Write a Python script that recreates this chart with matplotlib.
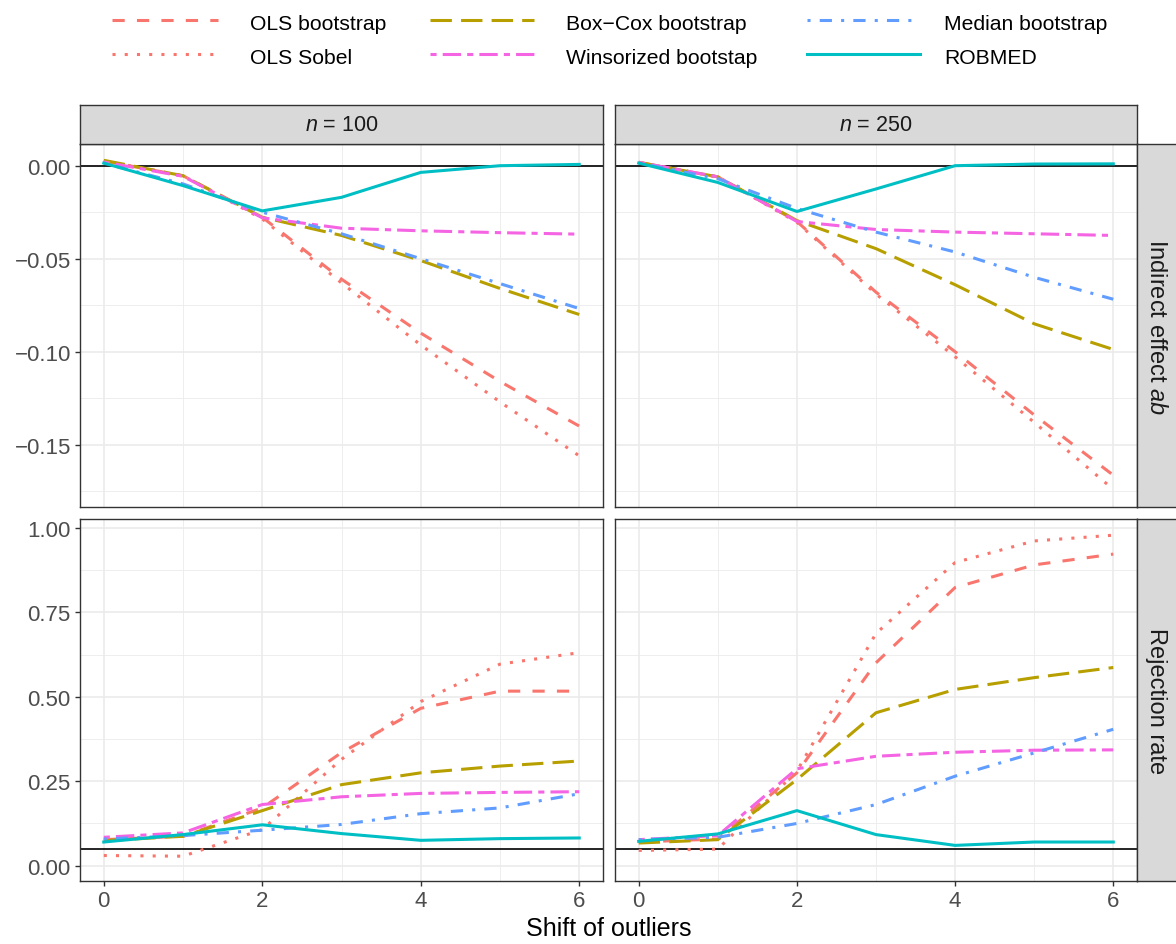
import matplotlib
matplotlib.use("Agg")
import matplotlib.pyplot as plt
from matplotlib.lines import Line2D
from matplotlib.ticker import FixedLocator

plt.rcParams['font.family'] = ['Liberation Sans', 'DejaVu Sans']
plt.rcParams['mathtext.fontset'] = 'custom'
plt.rcParams['mathtext.rm'] = 'Liberation Sans'
plt.rcParams['mathtext.it'] = 'Liberation Sans:italic'

# ---- data -------------------------------------------------------------
shift = [0, 1, 2, 3, 4, 5, 6]
methods = ["OLS bootstrap", "OLS Sobel", "Box\u2212Cox bootstrap",
           "Winsorized bootstap", "Median bootstrap", "ROBMED"]
sample_sizes = [100, 250]

# indirect effect ab, n = 100
ols_boot_ab_100 = [0.0025, -0.0054, -0.0277, -0.061, -0.090, -0.116, -0.140]
ols_sobel_ab_100 = [0.0025, -0.0054, -0.0286, -0.063, -0.0964, -0.127, -0.156]
boxcox_ab_100 = [0.0029, -0.0054, -0.0277, -0.0375, -0.051, -0.066, -0.080]
wins_ab_100 = [0.0020, -0.0057, -0.0280, -0.0336, -0.035, -0.036, -0.0368]
median_ab_100 = [0.0014, -0.0098, -0.0250, -0.0366, -0.050, -0.0634, -0.0768]
robmed_ab_100 = [0.0014, -0.0107, -0.0243, -0.0170, -0.0036, 0.0, 0.0007]

# indirect effect ab, n = 250
ols_boot_ab_250 = [0.0018, -0.0060, -0.0300, -0.068, -0.100, -0.134, -0.1664]
ols_sobel_ab_250 = [0.0018, -0.0060, -0.0304, -0.069, -0.1027, -0.138, -0.174]
boxcox_ab_250 = [0.0018, -0.0060, -0.0295, -0.0446, -0.064, -0.085, -0.0988]
wins_ab_250 = [0.0018, -0.0060, -0.0300, -0.0343, -0.0357, -0.0366, -0.0375]
median_ab_250 = [0.0014, -0.0070, -0.0230, -0.0357, -0.0464, -0.060, -0.0718]
robmed_ab_250 = [0.0014, -0.0090, -0.0246, -0.0125, 0.0, 0.0009, 0.0010]

# rejection rate, n = 100
ols_boot_rej_100 = [0.077, 0.087, 0.171, 0.335, 0.466, 0.517, 0.517]
ols_sobel_rej_100 = [0.030, 0.028, 0.107, 0.315, 0.486, 0.597, 0.631]
boxcox_rej_100 = [0.074, 0.087, 0.163, 0.240, 0.275, 0.295, 0.310]
wins_rej_100 = [0.084, 0.097, 0.181, 0.204, 0.214, 0.217, 0.219]
median_rej_100 = [0.079, 0.089, 0.105, 0.122, 0.154, 0.171, 0.213]
robmed_rej_100 = [0.070, 0.092, 0.121, 0.095, 0.075, 0.080, 0.082]

# rejection rate, n = 250
ols_boot_rej_250 = [0.070, 0.079, 0.275, 0.601, 0.824, 0.891, 0.923]
ols_sobel_rej_250 = [0.045, 0.049, 0.280, 0.688, 0.898, 0.962, 0.979]
boxcox_rej_250 = [0.067, 0.077, 0.255, 0.453, 0.522, 0.557, 0.587]
wins_rej_250 = [0.077, 0.089, 0.287, 0.324, 0.336, 0.342, 0.343]
median_rej_250 = [0.077, 0.084, 0.125, 0.181, 0.265, 0.334, 0.404]
robmed_rej_250 = [0.072, 0.094, 0.163, 0.092, 0.060, 0.070, 0.070]

ab_series = {
    100: [ols_boot_ab_100, ols_sobel_ab_100, boxcox_ab_100,
          wins_ab_100, median_ab_100, robmed_ab_100],
    250: [ols_boot_ab_250, ols_sobel_ab_250, boxcox_ab_250,
          wins_ab_250, median_ab_250, robmed_ab_250],
}
rej_series = {
    100: [ols_boot_rej_100, ols_sobel_rej_100, boxcox_rej_100,
          wins_rej_100, median_rej_100, robmed_rej_100],
    250: [ols_boot_rej_250, ols_sobel_rej_250, boxcox_rej_250,
          wins_rej_250, median_rej_250, robmed_rej_250],
}

# ---- styling ----------------------------------------------------------
colors = ["#F8766D", "#F8766D", "#B79F00", "#F564E3", "#619CFF", "#00BFC4"]
dashes = [(0, (4, 4)), (0, (1, 3)), (0, (7, 3)), (0, (2, 2, 6, 2)),
          (0, (1, 3, 4, 3)), "solid"]
LW = 2.2
GRID = "#EBEBEB"
BORDER = "#333333"
TICKTXT = "#4D4D4D"

W, H = 1176, 945
fig = plt.figure(figsize=(W / 100, H / 100), dpi=100)


def px_rect(x0, y0, x1, y1):
    return [x0 / W, 1 - y1 / H, (x1 - x0) / W, (y1 - y0) / H]


col_x = [(80, 603), (615, 1137)]
row_y = [(145, 508), (520, 882)]
row_ylim = [(-0.1835, 0.01167), (-0.0455, 1.027)]
row_hline = [0.0, 0.05]
row_major = [[-0.15, -0.10, -0.05, 0.0], [0.0, 0.25, 0.50, 0.75, 1.00]]
row_minor = [[-0.175, -0.125, -0.075, -0.025], [0.125, 0.375, 0.625, 0.875]]
row_labels = [["\u22120.15", "\u22120.10", "\u22120.05", "0.00"],
              ["0.00", "0.25", "0.50", "0.75", "1.00"]]
row_titles = ["Indirect effect $ab$", "Rejection rate"]

for r, series in enumerate([ab_series, rej_series]):
    for c, n in enumerate(sample_sizes):
        x0, x1 = col_x[c]
        y0, y1 = row_y[r]
        ax = fig.add_axes(px_rect(x0, y0, x1, y1))
        ax.set_xlim(-0.3, 6.3)
        ax.set_ylim(*row_ylim[r])
        ax.xaxis.set_major_locator(FixedLocator([0, 2, 4, 6]))
        ax.xaxis.set_minor_locator(FixedLocator([1, 3, 5]))
        ax.yaxis.set_major_locator(FixedLocator(row_major[r]))
        ax.yaxis.set_minor_locator(FixedLocator(row_minor[r]))
        ax.grid(which="major", color=GRID, lw=1.2)
        ax.grid(which="minor", color=GRID, lw=0.6)
        ax.set_axisbelow(True)
        ax.axhline(row_hline[r], color="black", lw=1.2, zorder=2)
        for vals, col, ls in zip(series[n], colors, dashes):
            ax.plot(shift, vals, color=col, linestyle=ls, lw=LW, zorder=3)
        for sp in ax.spines.values():
            sp.set_color(BORDER)
            sp.set_linewidth(1.0)
        ax.tick_params(which="minor", length=0)
        ax.tick_params(which="major", length=3.6, width=1.0, color=BORDER,
                       labelcolor=TICKTXT, labelsize=16, pad=3)
        if c == 0:
            ax.set_yticklabels(row_labels[r])
        else:
            ax.tick_params(axis="y", which="major", left=False, labelleft=False)
        if r == 1:
            ax.set_xticklabels(["0", "2", "4", "6"])
        else:
            ax.tick_params(axis="x", which="major", bottom=False, labelbottom=False)

# facet strips along the top
for c, n in enumerate(sample_sizes):
    x0, x1 = col_x[c]
    sax = fig.add_axes(px_rect(x0, 106, x1, 145))
    sax.set_facecolor("#D9D9D9")
    sax.set_xticks([])
    sax.set_yticks([])
    for sp in sax.spines.values():
        sp.set_color(BORDER)
        sp.set_linewidth(1.0)
    sax.text(0.5, 0.5, f"$n$ = {n}", ha="center", va="center",
             fontsize=15.5, color="#1A1A1A", transform=sax.transAxes)

# facet strips on the right
for r in range(2):
    y0, y1 = row_y[r]
    sax = fig.add_axes(px_rect(1137, y0, 1178, y1))
    sax.set_facecolor("#D9D9D9")
    sax.set_xticks([])
    sax.set_yticks([])
    for sp in sax.spines.values():
        sp.set_color(BORDER)
        sp.set_linewidth(1.0)
    sax.text(0.47, 0.5, row_titles[r], ha="center", va="center", rotation=-90,
             fontsize=17, color="#1A1A1A", transform=sax.transAxes)

fig.text(608.5 / W, 1 - 929 / H, "Shift of outliers", ha="center", va="center",
         fontsize=18, color="black")

# legend, two rows by three columns
leg_handle_x = [(112, 218), (430, 534), (807, 920)]
leg_text_x = [250, 566, 944]
leg_row_y = [21, 55]
for i, (name, col, ls) in enumerate(zip(methods, colors, dashes)):
    cc, rr = divmod(i, 2)
    hx0, hx1 = leg_handle_x[cc]
    yy = 1 - leg_row_y[rr] / H
    fig.add_artist(Line2D([hx0 / W, hx1 / W], [yy, yy], transform=fig.transFigure,
                          color=col, linestyle=ls, lw=LW))
    fig.text(leg_text_x[cc] / W, 1 - (leg_row_y[rr] + 1) / H, name,
             ha="left", va="center_baseline", fontsize=15.2, color="black")

fig.savefig("out.png", dpi=100)
